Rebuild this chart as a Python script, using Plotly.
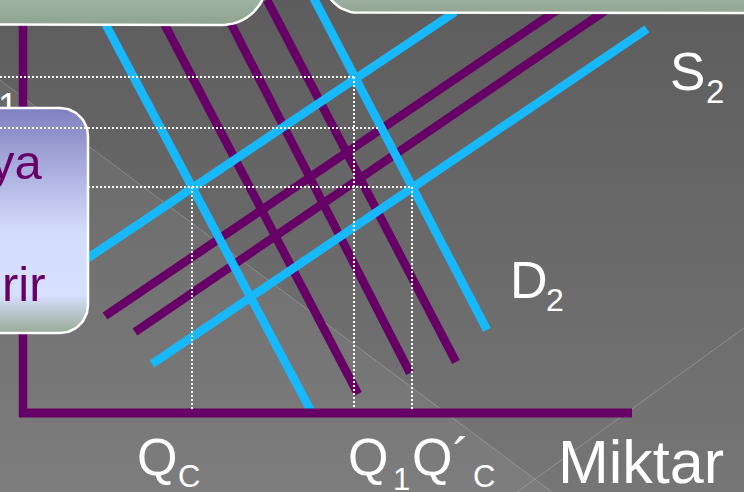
import numpy as np
import plotly.graph_objects as go

# Slide coordinates: x in px from the left, y in px from the top
# demand curves (steep, falling)
blue_demand_x = [[98, 311], [312, 487]]
blue_demand_y = [[10, 411], [-5, 330]]
purple_demand_x = [[157, 358], [224, 410], [267, 456]]
purple_demand_y = [[10, 394], [10, 373], [0, 362]]

# supply curves (rising)
blue_supply_x = [[85, 455], [152, 647]]
blue_supply_y = [[260, 12], [364, 29]]
purple_supply_x = [[105, 572], [135, 621]]
purple_supply_y = [[316, 0], [332, 0]]

# equilibrium guides
guide_h_y = [77, 128, 187]
guide_h_x0 = [0, 0, 88]
guide_h_x1 = [354, 380, 412]
guide_v_x = [192, 354, 412]
guide_v_y0 = [187, 77, 187]
axis_y = 413
axis_x = 23

BLUE = "#17b9fc"
PURPLE = "#660066"
FONT = "Liberation Sans, Arial, sans-serif"
LW = 8.5


def rounded_rect(x0, y0, x1, y1, r):
    xs, ys = [], []
    corners = [(x1 - r, y0 + r, -90, 0), (x1 - r, y1 - r, 0, 90),
               (x0 + r, y1 - r, 90, 180), (x0 + r, y0 + r, 180, 270)]
    for cx, cy, a0, a1 in corners:
        t = np.radians(np.linspace(a0, a1, 20))
        xs += list(cx + r * np.cos(t))
        ys += list(cy + r * np.sin(t))
    return xs + xs[:1], ys + ys[:1]


fig = go.Figure()

# slide background
fig.add_trace(go.Scatter(
    x=[0, 744, 744, 0, 0], y=[0, 0, 492, 492, 0], mode="lines", line_width=0,
    fill="toself", fillgradient=dict(type="vertical", start=0, stop=492,
                                     colorscale=[[0, "#5d5d5d"], [1, "#767676"]]),
    hoverinfo="skip"))
fig.add_trace(go.Scatter(
    x=[0, 552, 0, 0], y=[80, 492, 492, 80], mode="lines", line_width=0,
    fill="toself", fillcolor="rgba(255,255,255,0.05)", hoverinfo="skip"))
fig.add_trace(go.Scatter(x=[0, 552], y=[80, 492], mode="lines",
                         line=dict(color="rgba(255,255,255,0.22)", width=1), hoverinfo="skip"))
fig.add_trace(go.Scatter(x=[517, 744], y=[492, 328], mode="lines",
                         line=dict(color="rgba(255,255,255,0.22)", width=1), hoverinfo="skip"))

# P1 label, mostly hidden by the box
fig.add_trace(go.Scatter(x=[8], y=[110], mode="text", text=["1"],
                         textfont=dict(family=FONT, size=36, color="white"), hoverinfo="skip"))

for xs, ys in zip(purple_demand_x, purple_demand_y):
    fig.add_trace(go.Scatter(x=xs, y=ys, mode="lines", line=dict(color=PURPLE, width=LW), hoverinfo="skip"))
for xs, ys in zip(purple_supply_x, purple_supply_y):
    fig.add_trace(go.Scatter(x=xs, y=ys, mode="lines", line=dict(color=PURPLE, width=LW), hoverinfo="skip"))
for xs, ys in zip(blue_demand_x, blue_demand_y):
    fig.add_trace(go.Scatter(x=xs, y=ys, mode="lines", line=dict(color=BLUE, width=LW), hoverinfo="skip"))
for xs, ys in zip(blue_supply_x, blue_supply_y):
    fig.add_trace(go.Scatter(x=xs, y=ys, mode="lines", line=dict(color=BLUE, width=LW), hoverinfo="skip"))

# axes
fig.add_trace(go.Scatter(x=[axis_x, axis_x], y=[0, axis_y + 4], mode="lines",
                         line=dict(color=PURPLE, width=LW), hoverinfo="skip"))
fig.add_trace(go.Scatter(x=[axis_x - 4, 632], y=[axis_y, axis_y], mode="lines",
                         line=dict(color=PURPLE, width=9), hoverinfo="skip"))

# text boxes
bx, by = rounded_rect(-60, -60, 267, 25, 45)
fig.add_trace(go.Scatter(x=bx, y=by, mode="lines", line=dict(color="white", width=2.5),
                         fill="toself", fillgradient=dict(type="vertical", start=-60, stop=25,
                                                          colorscale=[[0, "#b8cabe"], [0.6, "#a4b7aa"], [1, "#8fa38f"]]),
                         hoverinfo="skip"))
bx, by = rounded_rect(323, -60, 800, 13, 36)
fig.add_trace(go.Scatter(x=bx, y=by, mode="lines", line=dict(color="white", width=2.5),
                         fill="toself", fillgradient=dict(type="vertical", start=-60, stop=13,
                                                          colorscale=[[0, "#b8cabe"], [0.7, "#a4b7aa"], [1, "#92a592"]]),
                         hoverinfo="skip"))
bx, by = rounded_rect(-60, 108, 88, 333, 28)
fig.add_trace(go.Scatter(x=bx, y=by, mode="lines", line=dict(color="white", width=2.5),
                         fill="toself", fillgradient=dict(type="vertical", start=108, stop=333,
                                                          colorscale=[[0, "#8080c0"], [0.55, "#d4dcfc"],
                                                                      [0.83, "#d8e0ff"], [1, "#98aa96"]]),
                         hoverinfo="skip"))

# dotted guides
for y, x0, x1 in zip(guide_h_y, guide_h_x0, guide_h_x1):
    fig.add_trace(go.Scatter(x=[x0, x1], y=[y, y], mode="lines",
                             line=dict(color="white", width=2, dash="2px,2px"), hoverinfo="skip"))
for x, y0 in zip(guide_v_x, guide_v_y0):
    fig.add_trace(go.Scatter(x=[x, x], y=[y0, axis_y - 4], mode="lines",
                             line=dict(color="white", width=2, dash="2px,2px"), hoverinfo="skip"))

# labels: (text, left x, centre y, size, colour)
labels = [
    ("S", 668, 71, 53, "white"), ("2", 704, 91, 33, "white"),
    ("D", 508, 280, 52, "white"), ("2", 544, 300, 32, "white"),
    ("Q", 135, 457, 52, "white"), ("C", 176, 476, 31, "white"),
    ("Q", 346, 457, 52, "white"), ("1", 391, 479, 31, "white"),
    ("Q´", 410, 457, 52, "white"), ("C", 471, 476, 31, "white"),
    ("Miktar", 556, 462, 61, "white"),
    ("ya", 45, 162, 49, PURPLE), ("rir", 48, 284, 49, PURPLE),
]
for text, x, y, size, color in labels:
    anchor = "right" if color == PURPLE else "left"
    fig.add_annotation(x=x, y=y, text=text, showarrow=False, xanchor=anchor, yanchor="middle",
                       font=dict(family=FONT, size=size, color=color))

fig.update_layout(
    width=744, height=492, margin=dict(l=0, r=0, t=0, b=0),
    paper_bgcolor="#666666", plot_bgcolor="#666666", showlegend=False,
    xaxis=dict(range=[0, 744], visible=False, fixedrange=True),
    yaxis=dict(range=[492, 0], visible=False, fixedrange=True),
)

fig.write_html("out.html", config={"displayModeBar": False},
               post_script="document.body.style.margin='0';")
